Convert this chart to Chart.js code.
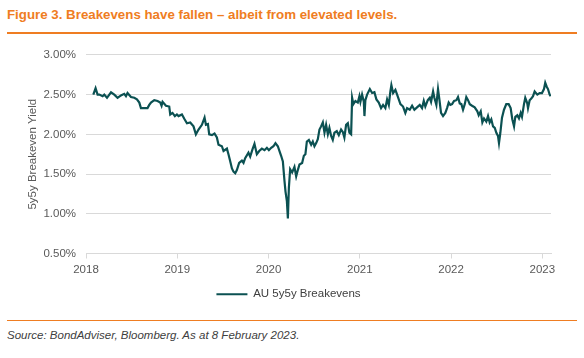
<!DOCTYPE html>
<html>
<head>
<meta charset="utf-8">
<title>Breakevens</title>
<script src="https://cdn.jsdelivr.net/npm/chart.js@4"></script>
<style>
  html, body { margin: 0; padding: 0; background: #fff; }
  body { width: 584px; height: 358px; position: relative; overflow: hidden; font-family: "Liberation Sans", Arial, sans-serif; }
  #title { position: absolute; left: 7px; top: 7px; font-size: 13.3px; font-weight: bold; color: #ef7d22; white-space: nowrap; }
  .rule { position: absolute; left: 7px; width: 570px; background: #ef7d22; }
  #rule-top { top: 32px; height: 2px; }
  #rule-bottom { top: 320px; height: 1px; }
  #source { position: absolute; left: 7px; top: 329px; font-size: 11.5px; font-style: italic; color: #404040; white-space: nowrap; }
  #chart { position: absolute; left: 26px; top: 38px; }
</style>
</head>
<body>
<div id="title">Figure 3. Breakevens have fallen – albeit from elevated levels.</div>
<div class="rule" id="rule-top"></div>
<canvas id="chart" width="558" height="272"></canvas>
<div class="rule" id="rule-bottom"></div>
<div id="source">Source: BondAdviser, Bloomberg. As at 8 February 2023.</div>
<script>
// time as decimal years
const years = [
    2018.080, 2018.105, 2018.127, 2018.146, 2018.182, 2018.200, 2018.230, 2018.274, 2018.310, 2018.346,
    2018.383, 2018.419, 2018.438, 2018.455, 2018.493, 2018.529, 2018.558, 2018.584, 2018.602, 2018.638,
    2018.674, 2018.693, 2018.712, 2018.748, 2018.784, 2018.814, 2018.828, 2018.839, 2018.876, 2018.912,
    2018.923, 2018.948, 2018.974, 2018.996,
    2019.014, 2019.051, 2019.080, 2019.106, 2019.142, 2019.178, 2019.204, 2019.233, 2019.270, 2019.299,
    2019.314, 2019.336, 2019.350, 2019.380, 2019.408, 2019.434, 2019.452, 2019.489, 2019.507, 2019.544,
    2019.561, 2019.580, 2019.599, 2019.616, 2019.635, 2019.653, 2019.678, 2019.708, 2019.726, 2019.744,
    2019.780, 2019.799, 2019.824, 2019.846, 2019.872, 2019.898, 2019.927, 2019.956, 2019.982,
    2020.004, 2020.029, 2020.054, 2020.076, 2020.102, 2020.120, 2020.138, 2020.157, 2020.175, 2020.186,
    2020.201, 2020.212, 2020.223, 2020.237, 2020.259, 2020.284, 2020.303, 2020.321, 2020.339, 2020.368,
    2020.387, 2020.404, 2020.420, 2020.442, 2020.467, 2020.485, 2020.503, 2020.522, 2020.540, 2020.558,
    2020.576, 2020.595, 2020.613, 2020.631, 2020.650, 2020.667, 2020.686, 2020.704, 2020.722, 2020.748,
    2020.770, 2020.795, 2020.814, 2020.831, 2020.850, 2020.869, 2020.886, 2020.905, 2020.916, 2020.930,
    2020.952, 2020.978, 2020.996,
    2021.007, 2021.025, 2021.044, 2021.051, 2021.061, 2021.080, 2021.110, 2021.135, 2021.160, 2021.182,
    2021.208, 2021.233, 2021.255, 2021.280, 2021.299, 2021.318, 2021.335, 2021.346, 2021.365, 2021.390,
    2021.409, 2021.427, 2021.445, 2021.474, 2021.499, 2021.518, 2021.547, 2021.573, 2021.598, 2021.627,
    2021.657, 2021.682, 2021.701, 2021.718, 2021.745, 2021.767, 2021.781, 2021.803, 2021.817, 2021.839,
    2021.857, 2021.872, 2021.890, 2021.912, 2021.937, 2021.956, 2021.974, 2021.992,
    2022.011, 2022.033, 2022.058, 2022.076, 2022.095, 2022.113, 2022.131, 2022.150, 2022.167, 2022.186,
    2022.205, 2022.230, 2022.259, 2022.288, 2022.303, 2022.325, 2022.343, 2022.361, 2022.386, 2022.405,
    2022.423, 2022.441, 2022.460, 2022.479, 2022.496, 2022.514, 2022.525, 2022.540, 2022.558, 2022.580,
    2022.605, 2022.631, 2022.653, 2022.671, 2022.690, 2022.704, 2022.726, 2022.744, 2022.763, 2022.777,
    2022.799, 2022.813, 2022.835, 2022.843, 2022.861, 2022.879, 2022.898, 2022.916, 2022.945, 2022.971,
    2022.996,
    2023.018, 2023.032, 2023.048, 2023.062, 2023.080, 2023.091
];

// AU 5y5y breakeven, %
const breakevens = [
    2.50, 2.58, 2.50, 2.50, 2.48, 2.50, 2.46, 2.53, 2.50, 2.46,
    2.49, 2.51, 2.48, 2.52, 2.47, 2.46, 2.44, 2.40, 2.33, 2.33,
    2.33, 2.37, 2.40, 2.43, 2.42, 2.40, 2.36, 2.41, 2.36, 2.35,
    2.25, 2.27, 2.23, 2.25,
    2.23, 2.25, 2.19, 2.14, 2.15, 2.10, 2.00, 2.06, 2.12, 2.21,
    2.12, 2.13, 2.00, 1.99, 2.01, 1.96, 1.87, 1.85, 1.79, 1.82,
    1.75, 1.66, 1.57, 1.53, 1.51, 1.55, 1.64, 1.67, 1.64, 1.70,
    1.77, 1.72, 1.81, 1.88, 1.75, 1.79, 1.82, 1.80, 1.83,
    1.80, 1.83, 1.85, 1.89, 1.85, 1.79, 1.73, 1.66, 1.41, 1.28,
    1.16, 0.94, 1.33, 1.56, 1.52, 1.59, 1.47, 1.55, 1.62, 1.64,
    1.73, 1.75, 1.91, 1.93, 1.87, 1.91, 1.85, 1.89, 1.94, 2.06,
    2.10, 2.15, 2.02, 2.12, 2.00, 2.08, 1.98, 1.93, 2.02, 2.04,
    1.99, 2.06, 2.03, 1.96, 2.12, 2.14, 2.02, 2.00, 2.46, 2.38,
    2.42, 2.40, 2.48,
    2.41, 2.50, 2.41, 2.23, 2.43, 2.50, 2.57, 2.52, 2.53, 2.44,
    2.40, 2.33, 2.37, 2.33, 2.44, 2.37, 2.54, 2.62, 2.52, 2.56,
    2.50, 2.44, 2.38, 2.35, 2.27, 2.33, 2.31, 2.36, 2.31, 2.34,
    2.37, 2.33, 2.42, 2.35, 2.43, 2.46, 2.41, 2.54, 2.46, 2.37,
    2.57, 2.44, 2.27, 2.23, 2.27, 2.33, 2.40, 2.37,
    2.38, 2.42, 2.43, 2.47, 2.39, 2.38, 2.31, 2.38, 2.47, 2.43,
    2.38, 2.36, 2.34, 2.29, 2.24, 2.29, 2.15, 2.20, 2.16, 2.23,
    2.15, 2.19, 2.10, 2.08, 2.02, 1.98, 1.89, 2.02, 2.21, 2.31,
    2.38, 2.38, 2.33, 2.19, 2.10, 2.22, 2.24, 2.20, 2.27, 2.22,
    2.38, 2.46, 2.39, 2.33, 2.43, 2.45, 2.48, 2.54, 2.50, 2.52,
    2.52,
    2.57, 2.65, 2.60, 2.57, 2.50, 2.48
];

const yearTicks = [2018, 2019, 2020, 2021, 2022, 2023];
const yieldTicks = [0.5, 1.0, 1.5, 2.0, 2.5, 3.0];

const points = years.map((t, i) => ({ x: t, y: breakevens[i] }));

Chart.defaults.font.family = '"Liberation Sans", Arial, sans-serif';
Chart.defaults.font.size = 11.5;
Chart.defaults.color = '#595959';

new Chart(document.getElementById('chart'), {
    type: 'line',
    data: {
        datasets: [{
            label: 'AU 5y5y Breakevens',
            data: points,
            borderColor: '#0b5152',
            backgroundColor: '#0b5152',
            borderWidth: 2.2,
            pointRadius: 0,
            tension: 0
        }]
    },
    options: {
        responsive: false,
        animation: false,
        devicePixelRatio: 1,
        layout: { padding: { top: 16, right: 33, bottom: 0, left: 0 } },
        plugins: {
            tooltip: { enabled: false },
            legend: {
                position: 'bottom',
                labels: {
                    usePointStyle: true,
                    pointStyle: 'line',
                    pointStyleWidth: 31,
                    padding: 10,
                    color: '#404040',
                    font: { size: 11.5 }
                }
            }
        },
        scales: {
            x: {
                type: 'linear',
                min: 2018,
                max: 2023.095,
                afterBuildTicks: s => { s.ticks = yearTicks.map(v => ({ value: v })); },
                afterFit: s => { s.height = 25; },
                ticks: { padding: 4, callback: v => String(v), maxRotation: 0 },
                grid: { drawOnChartArea: false, drawTicks: true, tickLength: 5, color: '#d9d9d9' },
                border: { color: '#d9d9d9' }
            },
            y: {
                min: 0.5,
                max: 3.0,
                afterBuildTicks: s => { s.ticks = yieldTicks.map(v => ({ value: v })); },
                afterFit: s => { s.width = 60; },
                ticks: { padding: 10, callback: v => v.toFixed(2) + '%' },
                grid: { color: '#d9d9d9', drawTicks: false },
                border: { display: false },
                title: { display: true, text: '5y5y Breakeven Yield', padding: 0, color: '#595959', font: { size: 11.5 } }
            }
        }
    }
});
</script>
</body>
</html>
